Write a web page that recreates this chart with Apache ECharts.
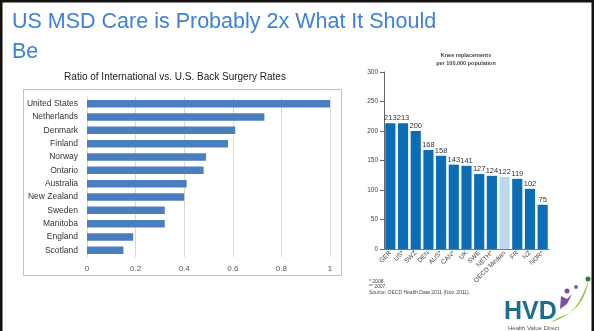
<!DOCTYPE html>
<html><head><meta charset="utf-8">
<script src="https://cdn.jsdelivr.net/npm/echarts@6/dist/echarts.min.js"></script>
<style>html,body{margin:0;padding:0;background:#fff}#c{width:594px;height:331px}</style>
</head><body><div id="c"></div>
<script>
const backCountries = ['United States','Netherlands','Denmark','Finland','Norway','Ontario','Australia','New Zealand','Sweden','Manitoba','England','Scotland'];
const backRatios = [1.0,0.73,0.61,0.58,0.49,0.48,0.41,0.40,0.32,0.32,0.19,0.15];
const kneeCountries = ['GER','US*','SWZ','DEN','AUS*','CAN*','UK','SWE','NETH*','OECD Median','FR','NZ','NOR*'];
const kneeRates = [213,213,200,168,158,143,141,127,124,122,119,102,75];
const slideTitle = 'US MSD Care is Probably 2x What It Should';
const slideTitle2 = 'Be';
const leftTitle = 'Ratio of International vs. U.S. Back Surgery Rates';
const rightTitle = ['Knee replacements','per 100,000 population'];
const footnotes = ['* 2008.','** 2007.','Source: OECD Health Data 2011 (Nov. 2011).'];

const chart = echarts.init(document.getElementById('c'), null, {renderer:'canvas'});
const F = '"Liberation Sans", Arial, sans-serif';
chart.setOption({
  backgroundColor:'#fff',
  animation:false,
  textStyle:{fontFamily:F},
  grid:[
    {left:87, top:97, width:243, height:160, containLabel:false},
    {left:384, top:72, width:165, height:177, containLabel:false}
  ],
  xAxis:[
    {gridIndex:0, type:'value', min:0, max:1, interval:0.2,
     axisLine:{show:false}, axisTick:{show:false},
     axisLabel:{fontSize:8, color:'#555', margin:8, formatter:v=>String(+v.toFixed(1))},
     splitLine:{lineStyle:{color:'#d9d9d9'}}},
    {gridIndex:1, type:'category', data:kneeCountries,
     axisLine:{lineStyle:{color:'#777'}}, axisTick:{show:false},
     axisLabel:{interval:0, rotate:45, fontSize:6.5, color:'#444', margin:3}}
  ],
  yAxis:[
    {gridIndex:0, type:'category', data:backCountries, inverse:true,
     axisLine:{lineStyle:{color:'#d9d9d9'}}, axisTick:{show:false},
     axisLabel:{fontSize:8.5, color:'#333', margin:9}},
    {gridIndex:1, type:'value', min:0, max:300, interval:50,
     axisLine:{show:true, lineStyle:{color:'#666'}},
     axisTick:{show:true, length:4, lineStyle:{color:'#666'}},
     axisLabel:{fontSize:6.5, color:'#444', margin:6},
     splitLine:{show:false}}
  ],
  series:[
    {type:'bar', xAxisIndex:0, yAxisIndex:0, data:backRatios, barWidth:'56%',
     itemStyle:{color:'#4a7ebf'}},
    {type:'bar', xAxisIndex:1, yAxisIndex:1, barCategoryGap:'20%',
     data:kneeRates.map((v,i)=>({value:v, itemStyle:{color: kneeCountries[i]==='OECD Median' ? '#bcd7ee' : '#0b6db5'}})),
     label:{show:true, position:'top', distance:1, fontSize:7.5, color:'#333'}}
  ],
  graphic:[
    {type:'rect', shape:{x:1, y:1, width:592, height:332}, style:{fill:'none', stroke:'#111', lineWidth:3}, z:100},
    {type:'text', x:12, y:22, style:{text:slideTitle, font:'21.5px '+F, fill:'#3f80d8', verticalAlign:'middle'}},
    {type:'text', x:12, y:52, style:{text:slideTitle2, font:'21.5px '+F, fill:'#3f80d8', verticalAlign:'middle'}},
    {type:'rect', shape:{x:23.5, y:89.5, width:318, height:186}, style:{fill:'none', stroke:'#bfbfbf', lineWidth:1}},
    {type:'text', x:175, y:77, style:{text:leftTitle, font:'10px '+F, fill:'#222', align:'center', verticalAlign:'middle'}},
    {type:'text', x:466, y:55, style:{text:rightTitle[0], font:'bold 5.5px '+F, fill:'#444', align:'center', verticalAlign:'middle'}},
    {type:'text', x:466, y:63, style:{text:rightTitle[1], font:'bold 5.5px '+F, fill:'#444', align:'center', verticalAlign:'middle'}},
    {type:'text', x:369, y:282, style:{text:footnotes[0], font:'5px '+F, fill:'#444', verticalAlign:'middle'}},
    {type:'text', x:369, y:287, style:{text:footnotes[1], font:'5px '+F, fill:'#444', verticalAlign:'middle'}},
    {type:'text', x:369, y:293, style:{text:footnotes[2], font:'5px '+F, fill:'#444', verticalAlign:'middle'}},
    {type:'text', x:504, y:300, style:{text:'HVD', font:'bold 25px '+F, fill:'#1d6d8e'}},
    {type:'polygon', shape:{points:[[552,322],[568,314],[580,300],[588,282],[583,298],[572,311],[556,319]], smooth:0.4}, style:{fill:'#8cc63f'}},
    {type:'circle', shape:{cx:588, cy:279, r:2.5}, style:{fill:'#2e7d32'}},
    {type:'circle', shape:{cx:567, cy:291, r:2.5}, style:{fill:'#7b4fa0'}},
    {type:'polygon', shape:{points:[[561,296],[567,299],[572,294],[567,304],[560,309]]}, style:{fill:'#7b4fa0'}},
    {type:'circle', shape:{cx:576, cy:287, r:2}, style:{fill:'#3a7fc4'}},
    {type:'text', x:508, y:325, style:{text:'Health Value Direct', font:'6px '+F, fill:'#555'}}
  ]
});
</script></body></html>
